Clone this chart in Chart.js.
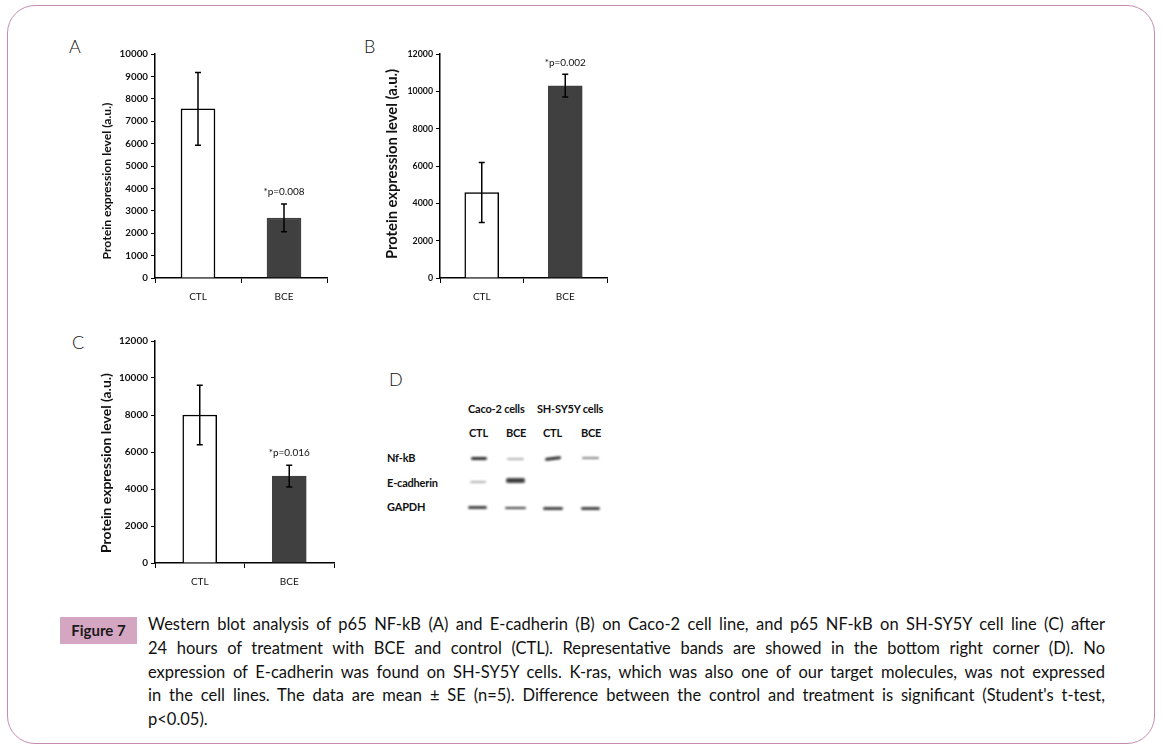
<!DOCTYPE html>
<html>
<head>
<meta charset="utf-8">
<script src="https://cdn.jsdelivr.net/npm/chart.js@4.4.0/dist/chart.umd.min.js"></script>
<style>
    body { margin: 0; background: #fff; font-family: Lato, "Open Sans", sans-serif; }
    #page { position: relative; width: 1163px; height: 750px; overflow: hidden; }
    #frame { position: absolute; left: 7px; top: 5px; width: 1148px; height: 739px;
             border: 1.5px solid #c48db0; border-radius: 28px; box-sizing: border-box; }
    .box { position: absolute; }
    .panel { position: absolute; font-size: 18px; font-weight: 300; color: #111; }
    .blot { position: absolute; font-size: 11px; color: #111; white-space: nowrap; font-weight: bold; letter-spacing: -0.2px; }
    .band { position: absolute; background: #222; filter: blur(0.9px); border-radius: 2px; }
    #figlabel { position: absolute; left: 60px; top: 617px; width: 77px; height: 27px;
                background: #d5a6c2; font-weight: bold; font-size: 15px; color: #1a1a1a;
                line-height: 27px; text-align: center; }
    #caption { position: absolute; left: 148px; top: 613px; width: 957px; font-size: 16.5px;
               line-height: 23.8px; color: #111; }
    #caption div { text-align: justify; text-align-last: justify; white-space: nowrap; }
    #caption div.last { text-align-last: left; }
</style>
</head>
<body>
<div id="page">
    <div id="frame"></div>

    <div class="panel" style="left:69px; top:35px;">A</div>
    <div class="panel" style="left:364px; top:35px;">B</div>
    <div class="panel" style="left:72px; top:331px;">C</div>
    <div class="panel" style="left:389px; top:368px;">D</div>

    <div class="box" style="left:90px; top:44px; width:245px; height:266px;"><canvas id="chartA"></canvas></div>
    <div class="box" style="left:375px; top:44px; width:240px; height:266px;"><canvas id="chartB"></canvas></div>
    <div class="box" style="left:90px; top:331px; width:252px; height:264px;"><canvas id="chartC"></canvas></div>

    <div id="blot"></div>

    <div id="figlabel">Figure 7</div>
    <div id="caption">
        <div>Western blot analysis of p65 NF-kB (A) and E-cadherin (B) on Caco-2 cell line, and p65 NF-kB on SH-SY5Y cell line (C) after</div>
        <div>24 hours of treatment with BCE and control (CTL). Representative bands are showed in the bottom right corner (D). No</div>
        <div>expression of E-cadherin was found on SH-SY5Y cells. K-ras, which was also one of our target molecules, was not expressed</div>
        <div>in the cell lines. The data are mean ± SE (n=5). Difference between the control and treatment is significant (Student's t-test,</div>
        <div class="last">p&lt;0.05).</div>
    </div>
</div>

<script>
// categories and values
const categories = ['CTL', 'BCE'];

const nfkbCaco = [7550, 2680];
const nfkbCacoErr = [1620, 620];

const ecadCaco = [4580, 10300];
const ecadCacoErr = [1610, 610];

const nfkbShsy = [8000, 4700];
const nfkbShsyErr = [1610, 590];

const pLabels = ['*p=0.008', '*p=0.002', '*p=0.016'];
const yMax = [10000, 12000, 12000];
const yStep = [1000, 2000, 2000];
const yTitle = 'Protein expression level (a.u.)';

// blot labels for panel D
const blotGroups = ['Caco-2 cells', 'SH-SY5Y cells'];
const blotLanes = ['CTL', 'BCE', 'CTL', 'BCE'];
const blotRows = ['Nf-kB', 'E-cadherin', 'GAPDH'];

const FONT = 'Lato, "Open Sans", sans-serif';

// error bars, p-value text and the y title (drawn by hand so it can sit off-centre like the original)
const errorBarPlugin = {
    id: 'errorBars',
    afterDatasetsDraw(chart, args, opts) {
        const ctx = chart.ctx;
        const y = chart.scales.y;
        const meta = chart.getDatasetMeta(0);
        const values = chart.data.datasets[0].data;
        ctx.save();
        ctx.strokeStyle = '#000';
        ctx.lineWidth = 1.5;
        meta.data.forEach(function (bar, i) {
            const e = opts.errors[i];
            const top = y.getPixelForValue(values[i] + e);
            const bot = y.getPixelForValue(values[i] - e);
            ctx.beginPath();
            ctx.moveTo(bar.x, top);
            ctx.lineTo(bar.x, bot);
            ctx.moveTo(bar.x - 3, top);
            ctx.lineTo(bar.x + 3, top);
            ctx.moveTo(bar.x - 3, bot);
            ctx.lineTo(bar.x + 3, bot);
            ctx.stroke();
            if (i === 1) {
                ctx.fillStyle = '#111';
                ctx.font = '10px ' + FONT;
                ctx.textAlign = 'center';
                ctx.textBaseline = 'middle';
                ctx.fillText(opts.label, bar.x, top - 12);
            }
        });

        // y axis title
        ctx.font = 'bold 10px ' + FONT;
        const w = ctx.measureText(yTitle).width;
        const size = 10 * opts.titleLen / w;
        ctx.font = 'bold ' + size.toFixed(2) + 'px ' + FONT;
        ctx.fillStyle = '#111';
        ctx.textAlign = 'center';
        ctx.textBaseline = 'middle';
        ctx.translate(opts.titleX, opts.titleY);
        ctx.rotate(-Math.PI / 2);
        ctx.fillText(yTitle, 0, 0);
        ctx.restore();
    }
};

function makeChart(id, values, errors, label, max, step, tickSize, title) {
    return new Chart(document.getElementById(id), {
        type: 'bar',
        data: {
            labels: categories,
            datasets: [{
                data: values,
                backgroundColor: ['#ffffff', '#404040'],
                borderColor: ['#000000', '#404040'],
                borderWidth: 1.5,
                borderSkipped: 'bottom',
                barThickness: 34
            }]
        },
        options: {
            responsive: true,
            maintainAspectRatio: false,
            animation: false,
            events: [],
            layout: { padding: { top: 10, right: 8, left: 0, bottom: 0 } },
            plugins: {
                legend: { display: false },
                tooltip: { enabled: false },
                errorBars: {
                    errors: errors,
                    label: label,
                    titleX: title[0],
                    titleY: title[1],
                    titleLen: title[2]
                }
            },
            scales: {
                x: {
                    border: { color: '#000', width: 1.5 },
                    grid: { drawOnChartArea: false, color: '#000', tickLength: 5, lineWidth: 1 },
                    ticks: { color: '#111', padding: 8, font: { family: FONT, size: 10 } },
                    afterFit: function (s) { s.height = 32; }
                },
                y: {
                    min: 0,
                    max: max,
                    border: { color: '#000', width: 1.5 },
                    grid: { drawOnChartArea: false, color: '#000', tickLength: 4, lineWidth: 1 },
                    ticks: {
                        stepSize: step,
                        color: '#111',
                        padding: 3,
                        font: { family: FONT, size: tickSize, weight: 'bold' },
                        callback: function (v) { return String(v); }
                    },
                    afterFit: function (s) { s.width = 65; }
                }
            }
        },
        plugins: [errorBarPlugin]
    });
}

// title: [x, centre y, length] in canvas pixels
makeChart('chartA', nfkbCaco, nfkbCacoErr, pLabels[0], yMax[0], yStep[0], 9.8, [17, 137, 157]);
makeChart('chartB', ecadCaco, ecadCacoErr, pLabels[1], yMax[1], yStep[1], 8.8, [17, 120, 190]);
makeChart('chartC', nfkbShsy, nfkbShsyErr, pLabels[2], yMax[2], yStep[2], 10, [17, 132, 180]);

// panel D: representative bands
const blot = document.getElementById('blot');
function addText(txt, x, y) {
    const d = document.createElement('div');
    d.className = 'blot';
    d.style.left = x + 'px';
    d.style.top = y + 'px';
    d.textContent = txt;
    blot.appendChild(d);
}
function addBand(x, y, w, h, alpha, rot) {
    const d = document.createElement('div');
    d.className = 'band';
    d.style.left = x + 'px';
    d.style.top = y + 'px';
    d.style.width = w + 'px';
    d.style.height = h + 'px';
    d.style.opacity = alpha;
    if (rot) d.style.transform = 'rotate(' + rot + 'deg)';
    blot.appendChild(d);
}
addText(blotGroups[0], 468, 402);
addText(blotGroups[1], 537, 402);
const laneX = [469, 506, 543, 581];
blotLanes.forEach(function (t, i) { addText(t, laneX[i], 426); });
addText(blotRows[0], 387, 451);
addText(blotRows[1], 387, 476);
addText(blotRows[2], 387, 500);

// Nf-kB row
addBand(471, 457, 16, 2.5, 0.95);
addBand(507, 458, 17, 1.5, 0.35);
addBand(545, 457, 16, 2.5, 0.95, -7);
addBand(582, 456.5, 17, 2, 0.55);
// E-cadherin row
addBand(470, 481, 16, 1.8, 0.35);
addBand(506, 478, 19, 5, 0.85);
// GAPDH row
addBand(468, 506, 19, 2.5, 0.85);
addBand(505, 506.5, 21, 2.5, 0.85);
addBand(543, 506.5, 20, 3.5, 0.85);
addBand(581, 506.5, 19, 3, 0.85);
</script>
</body>
</html>
